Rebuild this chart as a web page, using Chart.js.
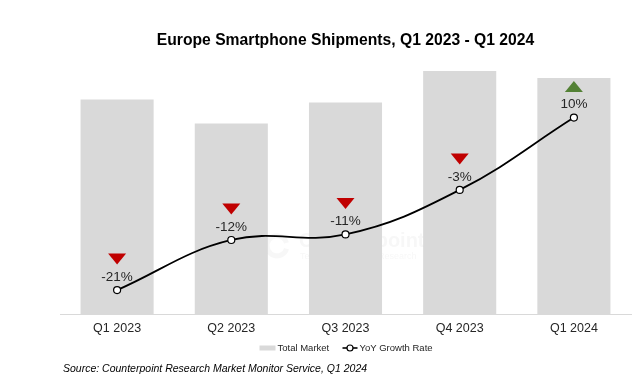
<!DOCTYPE html>
<html>
<head>
<meta charset="utf-8">
<script src="https://cdn.jsdelivr.net/npm/chart.js@4/dist/chart.umd.min.js"></script>
<style>
  html, body { margin: 0; padding: 0; background: #fff; }
  #wrap { width: 644px; height: 392px; position: relative; }
</style>
</head>
<body>
<div id="wrap"><canvas id="chart" width="644" height="392"></canvas></div>
<script>
// data
const quarters = ['Q1 2023', 'Q2 2023', 'Q3 2023', 'Q4 2023', 'Q1 2024'];
const totalMarket = [33.9, 30.1, 33.4, 38.4, 37.3];   // no axis shown, relative heights
const yoyGrowth = [-21, -12, -11, -3, 10];            // %

const TXT = '#262626';
const FONT = '"Liberation Sans", Arial, sans-serif';

// triangles + percent labels above the growth points, faint watermark, legend
const annotations = {
  id: 'annotations',
  beforeDatasetsDraw(chart) {
    const { ctx, chartArea } = chart;
    ctx.save();
    ctx.fillStyle = 'rgba(120,120,120,0.06)';
    ctx.strokeStyle = 'rgba(120,120,120,0.06)';
    ctx.lineWidth = 5;
    const cx = chartArea.left + 217, cy = chartArea.top + 185;
    ctx.beginPath();
    ctx.arc(cx, cy, 10, 0.3, Math.PI * 2 - 0.3);
    ctx.stroke();
    ctx.font = 'bold 20px ' + FONT;
    ctx.textBaseline = 'middle';
    ctx.fillText('Counterpoint', cx + 22, cy - 4);
    ctx.font = '9px ' + FONT;
    ctx.fillText('Technology Market Research', cx + 23, cy + 11);
    ctx.restore();
  },
  afterDatasetsDraw(chart) {
    const { ctx } = chart;
    const meta = chart.getDatasetMeta(0);
    ctx.save();
    meta.data.forEach((pt, i) => {
      const v = yoyGrowth[i];
      const x = pt.x, y = pt.y;
      ctx.fillStyle = TXT;
      ctx.font = '13.5px ' + FONT;
      ctx.textAlign = 'center';
      ctx.textBaseline = 'middle';
      ctx.fillText(v + '%', x, y - 13);
      const ty = y - 31;
      ctx.beginPath();
      if (v < 0) {
        ctx.fillStyle = '#c00000';
        ctx.moveTo(x - 9, ty - 5.5);
        ctx.lineTo(x + 9, ty - 5.5);
        ctx.lineTo(x, ty + 5.5);
      } else {
        ctx.fillStyle = '#538135';
        ctx.moveTo(x - 9, ty + 5.5);
        ctx.lineTo(x + 9, ty + 5.5);
        ctx.lineTo(x, ty - 5.5);
      }
      ctx.closePath();
      ctx.fill();
    });
    ctx.restore();
  },
  afterDraw(chart) {
    const { ctx, chartArea } = chart;
    const mid = (chartArea.left + chartArea.right) / 2;
    const ly = chartArea.bottom + 34;
    ctx.save();
    ctx.font = '9.5px ' + FONT;
    ctx.textBaseline = 'middle';
    ctx.fillStyle = '#d9d9d9';
    const x0 = mid - 86;
    ctx.fillRect(x0, ly - 2.5, 16, 5);
    ctx.fillStyle = TXT;
    ctx.fillText('Total Market', x0 + 18, ly);
    const x1 = x0 + 83;
    ctx.strokeStyle = '#000';
    ctx.lineWidth = 1.6;
    ctx.beginPath();
    ctx.moveTo(x1, ly);
    ctx.lineTo(x1 + 15, ly);
    ctx.stroke();
    ctx.beginPath();
    ctx.arc(x1 + 7.5, ly, 3, 0, Math.PI * 2);
    ctx.fillStyle = '#fff';
    ctx.fill();
    ctx.lineWidth = 1.2;
    ctx.stroke();
    ctx.fillStyle = TXT;
    ctx.fillText('YoY Growth Rate', x1 + 17, ly);
    ctx.font = 'italic 10.5px ' + FONT;
    ctx.fillStyle = '#000';
    ctx.fillText('Source: Counterpoint Research Market Monitor Service, Q1 2024', 63, chartArea.bottom + 55);
    ctx.restore();
  }
};

new Chart(document.getElementById('chart').getContext('2d'), {
  type: 'bar',
  data: {
    labels: quarters,
    datasets: [
      {
        type: 'line',
        label: 'YoY Growth Rate',
        data: yoyGrowth,
        yAxisID: 'yGrowth',
        borderColor: '#000',
        borderWidth: 1.8,
        tension: 0.4,
        pointRadius: 3.5,
        pointBackgroundColor: '#fff',
        pointBorderColor: '#000',
        pointBorderWidth: 1.2,
        order: 0
      },
      {
        label: 'Total Market',
        data: totalMarket,
        yAxisID: 'y',
        backgroundColor: '#d9d9d9',
        categoryPercentage: 1,
        barPercentage: 0.64,
        order: 1
      }
    ]
  },
  options: {
    responsive: false,
    animation: false,
    layout: { padding: { left: 60, right: 13, top: 0, bottom: 49 } },
    plugins: {
      legend: { display: false },
      tooltip: { enabled: false },
      title: {
        display: true,
        fullSize: false,
        text: 'Europe Smartphone Shipments, Q1 2023 - Q1 2024',
        color: '#000',
        font: { family: FONT, size: 15.7, weight: 'bold' },
        padding: { top: 31, bottom: 11 }
      }
    },
    scales: {
      x: {
        grid: { display: false, drawTicks: false },
        border: { display: true, color: '#d9d9d9', width: 1 },
        ticks: { color: TXT, font: { family: FONT, size: 12.5 }, padding: 7 }
      },
      y: { display: false, min: 0, max: 40 },
      yGrowth: { display: false, min: -25.3, max: 20.2 }
    }
  },
  plugins: [annotations]
});
</script>
</body>
</html>
